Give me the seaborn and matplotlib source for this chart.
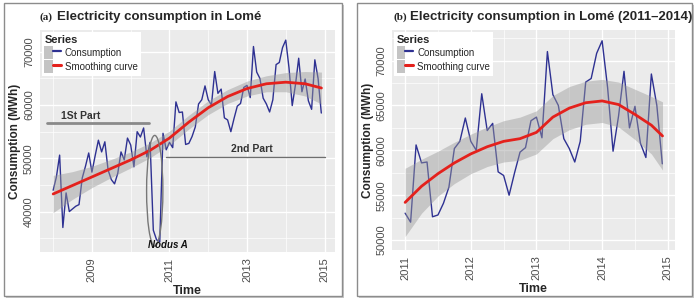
import matplotlib
matplotlib.use("Agg")
import matplotlib.pyplot as plt
import seaborn as sns
import numpy as np
import pandas as pd
from matplotlib.patches import Rectangle, Ellipse, Patch
from matplotlib.lines import Line2D
from matplotlib.ticker import MultipleLocator
from matplotlib.legend_handler import HandlerTuple

# -------------------- DATA --------------------
# monthly consumption (MWh), 2008-01 .. 2010-12
cons_2008_2010 = [44000, 46500, 50600, 37000, 43500, 40000, 40500, 41000, 41300, 46300, 48500, 51000,
                  47400, 50500, 53400, 51200, 53100, 47800, 46000, 45200, 47200, 51200, 49700, 53800,
                  52500, 48400, 55000, 54000, 55700, 50300, 53000, 36500, 34700, 34300, 54700, 51600]
# monthly consumption (MWh), 2011-01 .. 2014-12
cons_2011_2014 = [53000, 52000, 60600, 58600, 58700, 52600, 52800, 54100, 55900, 60200, 61000, 63600,
                  61000, 60000, 66300, 62200, 63000, 57600, 57200, 55000, 57500, 59800, 60300, 63300,
                  63700, 61400, 71000, 66200, 65000, 61300, 60200, 58700, 61000, 67600, 68000, 70800,
                  72200, 67000, 59900, 63800, 68800, 62500, 64900, 60800, 59200, 68500, 65000, 58500]

# smoothing curve of panel a (value and half width of the grey band)
smooth_a_time = [2008.0, 2008.5, 2009.0, 2009.5, 2010.0, 2010.5, 2011.0, 2011.5, 2012.0,
                 2012.5, 2013.0, 2013.5, 2014.0, 2014.5, 2014.92]
smooth_a_val = [43300, 44900, 46500, 48100, 49700, 51500, 53800, 56800, 59500,
                61600, 63100, 64000, 64300, 64000, 63200]
smooth_a_se = [3500, 2600, 2000, 1700, 1500, 1400, 1300, 1300, 1300,
               1300, 1400, 1500, 1800, 2300, 3000]

# smoothing curve of panel b
smooth_b_time = [2011.0, 2011.25, 2011.5, 2011.75, 2012.0, 2012.25, 2012.5, 2012.75, 2013.0,
                 2013.25, 2013.5, 2013.75, 2014.0, 2014.25, 2014.5, 2014.75, 2014.92]
smooth_b_val = [54200, 56000, 57400, 58600, 59600, 60400, 61000, 61300, 62000,
                63700, 64700, 65300, 65500, 65100, 64000, 62800, 61600]
smooth_b_se = [3800, 3000, 2500, 2300, 2200, 2200, 2300, 2400, 2400,
               2400, 2400, 2400, 2400, 2500, 2800, 3200, 3800]

BLUE = "#2E3192"
RED = "#E4211C"
BAND = "#9A9A9A"

cons_all = cons_2008_2010 + cons_2011_2014
df_a = pd.DataFrame({"Time": 2008 + np.arange(len(cons_all)) / 12, "Consumption": cons_all})
df_b = pd.DataFrame({"Time": 2011 + np.arange(len(cons_2011_2014)) / 12, "Consumption": cons_2011_2014})
sm_a = pd.DataFrame({"Time": smooth_a_time, "val": smooth_a_val, "se": smooth_a_se})
sm_b = pd.DataFrame({"Time": smooth_b_time, "val": smooth_b_val, "se": smooth_b_se})

# -------------------- STYLE --------------------
sns.set_theme(style="darkgrid", rc={
    "axes.facecolor": "#EBEBEB",
    "grid.color": "white",
    "axes.edgecolor": "#EBEBEB",
})
plt.rcParams["font.family"] = ["Liberation Sans", "DejaVu Sans"]

W, H = 700, 304
fig = plt.figure(figsize=(7, 3.04), dpi=100)


def rect(x0, y0, x1, y1):
    return [x0 / W, 1 - y1 / H, (x1 - x0) / W, (y1 - y0) / H]


# panel frames with a small shadow
for (x0, y0, x1, y1) in [(4, 3, 342, 296), (357, 3, 692, 296)]:
    fig.patches.append(Rectangle((x0 / W + 2 / W, 1 - y1 / H - 2 / H), (x1 - x0) / W, (y1 - y0) / H,
                                 transform=fig.transFigure, facecolor="#C8C8C8", edgecolor="none", zorder=-3))
    fig.patches.append(Rectangle((x0 / W, 1 - y1 / H), (x1 - x0) / W, (y1 - y0) / H,
                                 transform=fig.transFigure, facecolor="white", edgecolor="#8C8C8C",
                                 linewidth=1.0, zorder=-2))

ax_a = fig.add_axes(rect(39.6, 30, 335, 252))
ax_b = fig.add_axes(rect(392, 30, 675, 250))


def draw_panel(ax, df, sm):
    sns.lineplot(data=df, x="Time", y="Consumption", ax=ax, color=BLUE, linewidth=1.0, zorder=3)
    ax.fill_between(sm["Time"], sm["val"] - sm["se"], sm["val"] + sm["se"],
                    color=BAND, alpha=0.45, linewidth=0, zorder=4)
    sns.lineplot(data=sm, x="Time", y="val", ax=ax, color=RED, linewidth=2.0, zorder=5)
    ax.grid(which="major", color="white", linewidth=1.0)
    ax.grid(which="minor", color="white", linewidth=0.5)
    ax.tick_params(axis="both", which="major", length=2.5, width=0.8, color="#333333",
                   labelsize=8, labelcolor="#4D4D4D", pad=1.5)
    ax.tick_params(axis="both", which="minor", length=0)
    for lab in ax.get_yticklabels():
        lab.set_rotation(90)
        lab.set_va("center")
        lab.set_ha("right")
    for lab in ax.get_xticklabels():
        lab.set_rotation(90)
        lab.set_ha("center")
        lab.set_va("top")
    ax.set_xlabel("Time", fontsize=9, fontweight="bold", labelpad=2)
    ax.set_ylabel("Consumption (MWh)", fontsize=8.5, fontweight="bold", labelpad=2)
    for s in ax.spines.values():
        s.set_visible(False)

    handles = [(Patch(facecolor="#C4C4C4", edgecolor="none"), Line2D([], [], color=BLUE, lw=1.6)),
               (Patch(facecolor="#C4C4C4", edgecolor="none"), Line2D([], [], color=RED, lw=2.2))]
    leg = ax.legend(handles, ["Consumption", "Smoothing curve"], title="Series",
                    handler_map={tuple: HandlerTuple(ndivide=None, pad=0)},
                    loc="upper left", bbox_to_anchor=(0.0, 1.0), borderaxespad=0.2,
                    frameon=True, facecolor="white", edgecolor="none", framealpha=1, fancybox=False,
                    fontsize=7, handlelength=1.7, handleheight=1.6, handletextpad=0.4,
                    labelspacing=0.15, borderpad=0.3, alignment="left",
                    title_fontproperties={"weight": "bold", "size": 8})
    leg.set_zorder(10)


# -------------------- PANEL (a) --------------------
ax_a.set_xlim(2007.65, 2015.27)
ax_a.set_ylim(32400, 74100)
ax_a.xaxis.set_minor_locator(MultipleLocator(1))
ax_a.yaxis.set_minor_locator(MultipleLocator(5000))
ax_a.set_xticks([2009, 2011, 2013, 2015])
ax_a.set_xticklabels(["2009", "2011", "2013", "2015"])
ax_a.set_yticks([40000, 50000, 60000, 70000])
ax_a.set_yticklabels(["40000", "50000", "60000", "70000"])
draw_panel(ax_a, df_a, sm_a)
ax_a.set_xlim(2007.65, 2015.27)
ax_a.set_ylim(32400, 74100)

# part markers and annotation
ax_a.plot([2007.84, 2010.47], [56600, 56600], color="#8A8A8A", linewidth=2.0, zorder=6)
ax_a.text(2008.2, 57300, "1St Part", fontsize=7.5, fontweight="bold", color="#333333", zorder=6)
ax_a.plot([2010.92, 2015.0], [50250, 50250], color="#6E6E6E", linewidth=1.0, zorder=6)
ax_a.text(2013.13, 51100, "2nd Part", fontsize=7.5, fontweight="bold", color="#333333",
          ha="center", zorder=6)
ax_a.add_patch(Ellipse((2010.62, 43900), 0.42, 20800, facecolor="none", edgecolor="#777777",
                       linewidth=1.0, zorder=7))
ax_a.text(2010.45, 33100, "Nodus A", fontsize=7, fontweight="bold", fontstyle="italic",
          color="#111111", zorder=7)

# -------------------- PANEL (b) --------------------
ax_b.xaxis.set_minor_locator(MultipleLocator(0.5))
ax_b.yaxis.set_minor_locator(MultipleLocator(2500))
ax_b.set_xticks([2011, 2012, 2013, 2014, 2015])
ax_b.set_xticklabels(["2011", "2012", "2013", "2014", "2015"])
ax_b.set_yticks([50000, 55000, 60000, 65000, 70000])
ax_b.set_yticklabels(["50000", "55000", "60000", "65000", "70000"])
draw_panel(ax_b, df_b, sm_b)
ax_b.set_xlim(2010.80, 2015.11)
ax_b.set_ylim(48900, 73400)

# -------------------- TITLES --------------------
fig.text(40 / W, 1 - 17 / H, "(a)", fontsize=8, family=["Liberation Serif", "DejaVu Serif"],
         fontweight="bold", va="center", ha="left")
fig.text(57 / W, 1 - 17 / H, "Electricity consumption in Lomé", fontsize=9.5, fontweight="bold",
         va="center", ha="left")
fig.text(393 / W, 1 - 17 / H, "(b)", fontsize=8, family=["Liberation Serif", "DejaVu Serif"],
         fontweight="bold", va="center", ha="left")
fig.text(410 / W, 1 - 17 / H, "Electricity consumption in Lomé (2011–2014)", fontsize=9.5,
         fontweight="bold", va="center", ha="left")

fig.savefig("out.png", dpi=100)
